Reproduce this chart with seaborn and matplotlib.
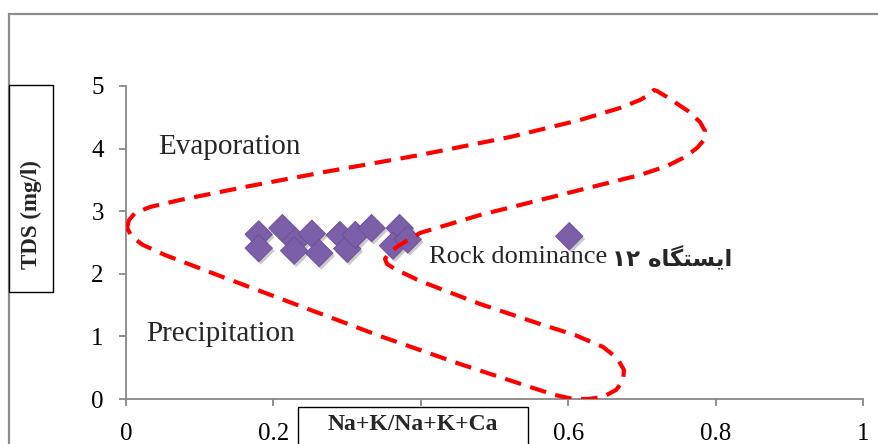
import matplotlib
matplotlib.use("Agg")
import matplotlib.pyplot as plt
import matplotlib.patheffects as pe
from matplotlib.patches import Rectangle
import pandas as pd
import seaborn as sns

# Sample ratios Na+K/(Na+K+Ca) and TDS values
ratio = [0.180, 0.180, 0.212, 0.230, 0.228, 0.252, 0.262, 0.290, 0.300,
         0.311, 0.333, 0.371, 0.362, 0.382, 0.601]
tds = [2.63, 2.41, 2.73, 2.52, 2.37, 2.64, 2.33, 2.62, 2.40,
       2.62, 2.73, 2.73, 2.45, 2.55, 2.60]

# Gibbs boundary envelope (closed dashed outline)
env_x = [0.0014, 0.0041, 0.0122, 0.0325, 0.0732, 0.1681, 0.2766, 0.3986,
         0.5207, 0.6156, 0.6698, 0.6969, 0.7105, 0.7159, 0.7200, 0.7336,
         0.7620, 0.7783, 0.7851, 0.7837, 0.7742, 0.7580, 0.7336, 0.6969,
         0.6427, 0.5885, 0.4800, 0.3986, 0.3688, 0.3553, 0.3512, 0.3539,
         0.3647, 0.3986, 0.4800, 0.5614, 0.6088, 0.6468, 0.6658, 0.6753,
         0.6739, 0.6644, 0.6468, 0.6264, 0.6047, 0.5817, 0.5478, 0.4529,
         0.3444, 0.2359, 0.1275, 0.0529, 0.0231, 0.0081, 0.0014]
env_y = [2.732, 2.859, 2.971, 3.067, 3.179, 3.403, 3.642, 3.898,
         4.185, 4.457, 4.649, 4.776, 4.870, 4.936, 4.920, 4.824,
         4.601, 4.425, 4.281, 4.137, 4.010, 3.866, 3.722, 3.578,
         3.419, 3.259, 2.939, 2.652, 2.444, 2.316, 2.236, 2.157,
         2.077, 1.885, 1.518, 1.198, 1.022, 0.831, 0.655, 0.463,
         0.288, 0.144, 0.032, 0.000, 0.005, 0.064, 0.192, 0.559,
         1.006, 1.486, 1.965, 2.300, 2.460, 2.588, 2.732]

x_ticks = [0, 0.2, 0.4, 0.6, 0.8, 1]
# the 0.4 position sits under the boxed axis title
x_tick_labels = ["0", "0.2", "", "0.6", "0.8", "1"]
y_ticks = [0, 1, 2, 3, 4, 5]

sns.set_style("white")
plt.rcParams["font.family"] = ["Liberation Serif", "DejaVu Serif"]

W, H = 879, 444
fig = plt.figure(figsize=(W / 100, H / 100), dpi=100)
ax = fig.add_axes([126 / W, 1 - 399 / H, (863.5 - 126) / W, (399 - 86) / H])

grey = "#888888"

ax.plot(env_x, env_y, color="#ff0000", lw=3, dashes=(4, 2.3),
        solid_joinstyle="round", dash_joinstyle="round",
        dash_capstyle="butt", zorder=3)

df = pd.DataFrame({"ratio": ratio, "tds": tds})
sns.scatterplot(data=df, x="ratio", y="tds", marker="D", s=195,
                color="#7c5fa9", edgecolor="#6a4d98", linewidth=0.6,
                ax=ax, zorder=2, legend=False)
ax.collections[-1].set_path_effects([
    pe.SimplePatchShadow(offset=(1.5, -2), shadow_rgbFace="#8a8a8a", alpha=0.45),
    pe.Normal()])

ax.set_xlim(0, 1)
ax.set_ylim(0, 5)
ax.set_xticks(x_ticks)
ax.set_xticklabels(x_tick_labels)
ax.set_yticks(y_ticks)
ax.set_xlabel("")
ax.set_ylabel("")
for s in ["top", "right"]:
    ax.spines[s].set_visible(False)
for s in ["left", "bottom"]:
    ax.spines[s].set_color(grey)
    ax.spines[s].set_linewidth(1.3)
ax.tick_params(axis="both", which="both", direction="out", length=5,
               width=1.3, color=grey, labelsize=18, labelcolor="black",
               bottom=True, left=True)
ax.tick_params(axis="x", pad=12)
ax.tick_params(axis="y", pad=11)
ax.patch.set_alpha(0)

ax.text(0.043, 4.03, "Evaporation", fontsize=21, va="center", ha="left")
ax.text(0.028, 1.04, "Precipitation", fontsize=21, va="center", ha="left")
ax.text(0.411, 2.27, "Rock dominance", fontsize=19, va="center", ha="left")
ax.text(0.659, 2.24, "\u06F1\u06F2 \uFEE9\uFE8E\uFB95\uFE98\uFEB4\uFBFE\uFE8D",
        fontsize=16.5, fontweight="bold", family=["DejaVu Sans"],
        va="center", ha="left")

# Outer chart-area border
fig.patches.append(Rectangle((9 / W, -0.2), 1.2, 1.2 - 14 / H,
                             transform=fig.transFigure, fill=False,
                             ec="#8c8c8c", lw=1.6, zorder=0))

# Boxed axis titles
fig.patches.append(Rectangle((9 / W, 1 - 292 / H), 44 / W, 207 / H,
                             transform=fig.transFigure, fc="white",
                             ec="black", lw=1.0, zorder=5))
fig.text(31 / W, 1 - 215 / H, "TDS (mg/l)", rotation=90, fontsize=16.5,
         fontweight="bold", ha="center", va="center", zorder=6)

fig.patches.append(Rectangle((298 / W, -0.1), 230 / W, 0.1 + (444 - 407) / H,
                             transform=fig.transFigure, fc="white",
                             ec="black", lw=1.0, zorder=5))
fig.text(413 / W, 1 - 424 / H, "Na+K/Na+K+Ca", fontsize=17,
         fontweight="bold", ha="center", va="center", zorder=6)

fig.savefig("out.png", dpi=100, facecolor="white")
